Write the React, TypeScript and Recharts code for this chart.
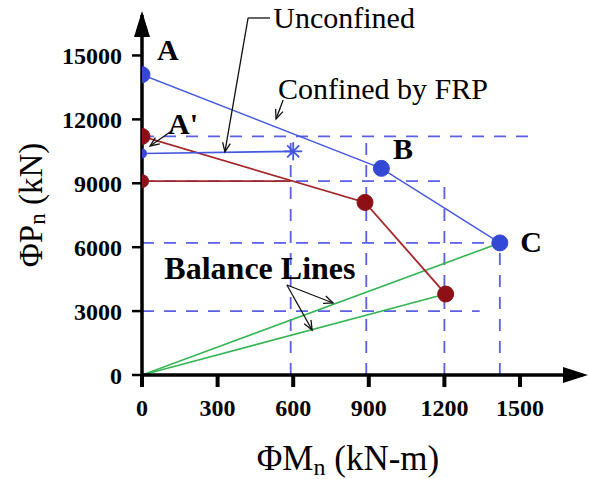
import { LineChart, Line, XAxis, YAxis, ReferenceLine, ReferenceDot } from 'recharts';

const FONT = '"Liberation Serif", "Times New Roman", serif';

const mTicks = [0, 300, 600, 900, 1200, 1500];
const pTicks = [0, 3000, 6000, 9000, 12000, 15000];

// interaction curves, m = ΦMn (kN-m), p = ΦPn (kN)
const confinedFrp = [
  { m: 0, p: 14100 },
  { m: 950, p: 9700 },
  { m: 1420, p: 6200 },
];
const unconfined = [
  { m: 0, p: 10400 },
  { m: 600, p: 10500 },
];
const redUpper = [
  { m: 0, p: 11200 },
  { m: 885, p: 8100 },
  { m: 1205, p: 3800 },
];
const redLower = [
  { m: 0, p: 9100 },
  { m: 590, p: 9100 },
];
const balanceUpper = [
  { m: 0, p: 0 },
  { m: 1420, p: 6200 },
];
const balanceLower = [
  { m: 0, p: 0 },
  { m: 1205, p: 3800 },
];

// dashed guide lines [from, to, at]
const guideH = [
  [0, 1567, 11200],
  [0, 1200, 9100],
  [0, 1420, 6200],
  [0, 1340, 3000],
];
const guideV = [
  [0, 11200, 590],
  [0, 11200, 890],
  [0, 9100, 1200],
  [0, 6200, 1420],
];

const letters = [
  { text: 'A', m: 103, p: 15260 },
  { text: "A'", m: 163, p: 11830 },
  { text: 'B', m: 1036, p: 10610 },
  { text: 'C', m: 1544, p: 6290 },
];
const captions = [
  { text: 'Balance Lines', m: 468, p: 5020, size: 32, bold: true },
  { text: 'Unconfined', m: 802, p: 16760, size: 30, bold: false },
  { text: 'Confined by FRP', m: 956, p: 13470, size: 30, bold: false },
];

// leader lines: [m1, p1, m2, p2, arrow]
const leaders: [number, number, number, number, boolean][] = [
  [508, 16760, 421, 16760, false],
  [421, 16760, 329, 10470, true],
  [560, 12910, 532, 12020, true],
  [123, 11500, 32, 10750, true],
  [575, 4225, 758, 3380, true],
  [575, 4225, 675, 2113, true],
];

const BLUE = '#4357df';
const BLUE_DOT = '#3448d6';
const GRID_BLUE = '#5a5fe3';
const RED = '#a3262a';
const RED_DOT = '#8c1016';
const GREEN = '#33b552';

const arrowShape = (withHead: boolean) => (props: any) => {
  const { x1, y1, x2, y2 } = props;
  const a = Math.atan2(y2 - y1, x2 - x1);
  const len = 10;
  const h1 = `${x2 - len * Math.cos(a - 0.4)},${y2 - len * Math.sin(a - 0.4)}`;
  const h2 = `${x2 - len * Math.cos(a + 0.4)},${y2 - len * Math.sin(a + 0.4)}`;
  return (
    <g>
      <line x1={x1} y1={y1} x2={x2} y2={y2} stroke="#111" strokeWidth={1.3} />
      {withHead && <polyline points={`${h1} ${x2},${y2} ${h2}`} fill="none" stroke="#111" strokeWidth={1.3} />}
    </g>
  );
};

const textShape = (text: string, size: number, bold: boolean) => (props: any) => (
  <text
    x={props.cx}
    y={props.cy}
    dy="0.35em"
    textAnchor="middle"
    fontFamily={FONT}
    fontSize={size}
    fontWeight={bold ? 700 : 400}
    fill="#000"
  >
    {text}
  </text>
);

const yArrow = (props: any) => {
  const { cx, cy } = props;
  return <polygon points={`${cx - 8},${cy + 22} ${cx},${cy - 4} ${cx + 8},${cy + 22}`} fill="#000" />;
};
const xArrow = (props: any) => {
  const { cx, cy } = props;
  return <polygon points={`${cx - 20},${cy - 8} ${cx + 5},${cy} ${cx - 20},${cy + 8}`} fill="#000" />;
};

const asteriskDot = (props: any) => {
  const { cx, cy, index } = props;
  if (index === 0) return <circle key={index} cx={cx} cy={cy} r={5} fill={BLUE_DOT} />;
  return (
    <g key={index} stroke={BLUE} strokeWidth={1.8}>
      <line x1={cx - 9} y1={cy} x2={cx + 9} y2={cy} />
      <line x1={cx} y1={cy - 9} x2={cx} y2={cy + 9} />
      <line x1={cx - 6} y1={cy - 6} x2={cx + 6} y2={cy + 6} />
      <line x1={cx - 6} y1={cy + 6} x2={cx + 6} y2={cy - 6} />
    </g>
  );
};

const firstDotOnly = (props: any) => {
  const { cx, cy, index } = props;
  if (index !== 0) return <g key={index} />;
  return <circle key={index} cx={cx} cy={cy} r={7} fill={RED_DOT} />;
};

const yTitle = (props: any) => {
  const vb = props.viewBox || { x: 0, y: 15, width: 142, height: 360 };
  const cx = vb.x + 31;
  const cy = vb.y + 190;
  return (
    <text
      x={cx}
      y={cy}
      transform={`rotate(-90 ${cx} ${cy})`}
      textAnchor="middle"
      dominantBaseline="central"
      fontFamily={FONT}
      fontSize={33}
      fill="#000"
    >
      ΦP<tspan fontSize={23} dy={6}>n</tspan>
      <tspan dy={-6}> (kN)</tspan>
    </text>
  );
};

const xTitle = (props: any) => {
  const vb = props.viewBox || { x: 142, y: 375, width: 441, height: 104 };
  const cx = vb.x + 206;
  const cy = vb.y + 95;
  return (
    <text x={cx} y={cy} textAnchor="middle" fontFamily={FONT} fontSize={35} fill="#000">
      ΦM<tspan fontSize={24} dy={5}>n</tspan>
      <tspan dy={-5}> (kN-m)</tspan>
    </text>
  );
};

const tickStyle = { fill: '#000', fontSize: 24, fontWeight: 700, fontFamily: FONT };

export default function App() {
  return (
    <div style={{ position: 'absolute', left: 0, top: 0, width: 589, height: 479, background: '#fff' }}>
      <LineChart width={589} height={479} margin={{ top: 15, right: 6, bottom: 0, left: 0 }}>
        <XAxis
          type="number"
          dataKey="m"
          domain={[0, 1750]}
          ticks={mTicks}
          interval={0}
          allowDataOverflow
          height={104}
          axisLine={{ stroke: '#000', strokeWidth: 3.5 }}
          tickLine={{ stroke: '#000', strokeWidth: 4 }}
          tickSize={12}
          tickMargin={12}
          tick={tickStyle}
          label={xTitle}
        />
        <YAxis
          type="number"
          dataKey="p"
          domain={[0, 16900]}
          ticks={pTicks}
          interval={0}
          allowDataOverflow
          width={142}
          axisLine={{ stroke: '#000', strokeWidth: 3.5 }}
          tickLine={{ stroke: '#000', strokeWidth: 2.5 }}
          tickSize={10}
          tickMargin={10}
          tick={tickStyle}
          label={yTitle}
        />

        {guideH.map(([from, to, at], i) => (
          <ReferenceLine
            key={`h${i}`}
            segment={[{ x: from, y: at }, { x: to, y: at }]}
            stroke={GRID_BLUE}
            strokeWidth={1.8}
            strokeDasharray="12 10"
            ifOverflow="visible"
          />
        ))}
        {guideV.map(([from, to, at], i) => (
          <ReferenceLine
            key={`v${i}`}
            segment={[{ x: at, y: from }, { x: at, y: to }]}
            stroke={GRID_BLUE}
            strokeWidth={1.8}
            strokeDasharray="12 10"
            ifOverflow="visible"
          />
        ))}

        <Line data={balanceUpper} dataKey="p" stroke={GREEN} strokeWidth={1.6} dot={false} activeDot={false} isAnimationActive={false} />
        <Line data={balanceLower} dataKey="p" stroke={GREEN} strokeWidth={1.6} dot={false} activeDot={false} isAnimationActive={false} />
        <Line data={redLower} dataKey="p" stroke={RED} strokeWidth={1.8} dot={firstDotOnly} activeDot={false} isAnimationActive={false} />
        <Line
          data={redUpper}
          dataKey="p"
          stroke={RED}
          strokeWidth={1.8}
          dot={{ r: 8, fill: RED_DOT, stroke: RED_DOT, strokeWidth: 1 }}
          activeDot={false}
          isAnimationActive={false}
        />
        <Line data={unconfined} dataKey="p" stroke={BLUE} strokeWidth={1.6} dot={asteriskDot} activeDot={false} isAnimationActive={false} />
        <Line
          data={confinedFrp}
          dataKey="p"
          stroke={BLUE}
          strokeWidth={1.4}
          dot={{ r: 8, fill: BLUE_DOT, stroke: BLUE_DOT, strokeWidth: 1 }}
          activeDot={false}
          isAnimationActive={false}
        />

        {leaders.map(([m1, p1, m2, p2, head], i) => (
          <ReferenceLine
            key={`l${i}`}
            segment={[{ x: m1, y: p1 }, { x: m2, y: p2 }]}
            ifOverflow="visible"
            shape={arrowShape(head)}
          />
        ))}

        {letters.map((d) => (
          <ReferenceDot key={d.text} x={d.m} y={d.p} ifOverflow="visible" shape={textShape(d.text, 30, true)} />
        ))}
        {captions.map((d) => (
          <ReferenceDot key={d.text} x={d.m} y={d.p} ifOverflow="visible" shape={textShape(d.text, d.size, d.bold)} />
        ))}

        <ReferenceDot x={0} y={16900} ifOverflow="visible" shape={yArrow} />
        <ReferenceDot x={1750} y={0} ifOverflow="visible" shape={xArrow} />
      </LineChart>
    </div>
  );
}
